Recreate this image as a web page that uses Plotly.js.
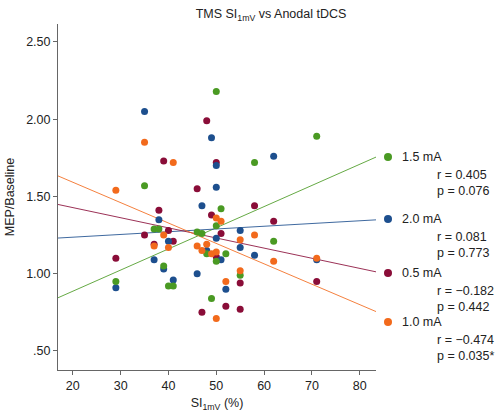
<!DOCTYPE html>
<html><head><meta charset="utf-8">
<script src="https://cdn.plot.ly/plotly-3.0.1.min.js"></script>
<style>html,body{margin:0;padding:0;background:#fff}#chart{width:502px;height:419px}</style>
</head><body><div id="chart"></div>
<script>
// Groups (legend order)
const groups = ["1.5 mA", "2.0 mA", "0.5 mA", "1.0 mA"];
const rLabels = ["r = 0.405", "r = 0.081", "r = \u22120.182", "r = \u22120.474"];
const pLabels = ["p = 0.076", "p = 0.773", "p = 0.442", "p = 0.035*"];
const colors = ["#4a9a23", "#1d4f8e", "#8a0d38", "#f26a1c"];

// 1.5 mA (green)
const x15 = [50, 35, 58, 51, 37, 38, 39, 29, 40, 41, 50, 46, 47, 62, 48, 52, 50, 55, 49, 71];
const y15 = [2.18, 1.57, 1.72, 1.42, 1.29, 1.29, 1.05, 0.95, 0.92, 0.92, 1.31, 1.27, 1.26, 1.21, 1.13, 1.13, 1.08, 0.99, 0.84, 1.89];
// 2.0 mA (blue)
const x20 = [35, 49, 50, 62, 50, 47, 38, 40, 37, 39, 29, 41, 55, 50, 55, 48, 51, 58, 46, 52, 71];
const y20 = [2.05, 1.88, 1.70, 1.76, 1.56, 1.44, 1.35, 1.21, 1.09, 1.03, 0.91, 0.96, 1.28, 1.23, 1.17, 1.15, 1.09, 1.12, 1.00, 0.90, 1.09];
// 0.5 mA (maroon)
const x05 = [39, 38, 48, 50, 46, 58, 40, 35, 41, 37, 29, 49, 62, 51, 50, 55, 52, 55, 47, 71];
const y05 = [1.73, 1.41, 1.99, 1.72, 1.55, 1.44, 1.28, 1.25, 1.21, 1.19, 1.10, 1.38, 1.34, 1.26, 1.11, 0.94, 0.79, 0.77, 0.75, 0.95];
// 1.0 mA (orange)
const x10 = [35, 41, 29, 39, 37, 40, 50, 51, 58, 55, 46, 48, 47, 49, 50, 62, 55, 52, 50, 71];
const y10 = [1.85, 1.72, 1.54, 1.25, 1.18, 1.17, 1.36, 1.34, 1.25, 1.22, 1.18, 1.19, 1.15, 1.13, 1.14, 1.08, 1.02, 0.95, 0.71, 1.10];

// regression lines (intercept, slope)
const intercepts = [0.613, 1.201, 1.559, 1.856];
const slopes = [0.01369, 0.00177, -0.006556, -0.0132];

const xTicks = [20, 30, 40, 50, 60, 70, 80];
const yTicks = [0.5, 1.0, 1.5, 2.0, 2.5];
const yTickText = [".50", "1.00", "1.50", "2.00", "2.50"];

const xRange = [16.9, 83.4];
const yRange = [0.377, 2.616];

const xs = [x15, x20, x05, x10];
const ys = [y15, y20, y05, y10];

const traces = [];
// lines first
for (let i = 0; i < 4; i++) {
  traces.push({
    x: [xRange[0], xRange[1]],
    y: [intercepts[i] + slopes[i] * xRange[0], intercepts[i] + slopes[i] * xRange[1]],
    mode: "lines", type: "scatter", showlegend: false, hoverinfo: "skip",
    line: {color: colors[i], width: 1}, opacity: 0.85, cliponaxis: true
  });
}
// draw order of points: maroon, blue, green, orange roughly
const order = [2, 1, 0, 3];
for (const i of order) {
  traces.push({
    x: xs[i], y: ys[i], mode: "markers", type: "scatter", name: groups[i], showlegend: false,
    marker: {color: colors[i], size: 7, line: {width: 0}}
  });
}

const F = "Liberation Sans, Arial, Helvetica, sans-serif";
const legendY = [157, 219, 273, 322];
const H = 419;
const annotations = [];
const shapes = [];
for (let i = 0; i < 4; i++) {
  const py = legendY[i];
  shapes.push({type: "circle", xref: "paper", yref: "paper", xsizemode: "pixel", ysizemode: "pixel",
    xanchor: 1 + (388 - 376) / 318, yanchor: 1 - (py - 24) / 346,
    x0: -4, x1: 4, y0: -4, y1: 4, fillcolor: colors[i], line: {width: 0}});
  annotations.push({xref: "paper", yref: "paper", x: 1 + (400 - 376) / 318, y: 1 - (py - 24) / 346,
    xanchor: "left", yanchor: "middle", showarrow: false, text: groups[i], font: {family: F, size: 12.5, color: "#222"}});
  annotations.push({xref: "paper", yref: "paper", x: 1 + (435 - 376) / 318, y: 1 - (py + 18 - 24) / 346,
    xanchor: "left", yanchor: "middle", showarrow: false, text: rLabels[i], font: {family: F, size: 12.5, color: "#222"}});
  annotations.push({xref: "paper", yref: "paper", x: 1 + (435 - 376) / 318, y: 1 - (py + 34 - 24) / 346,
    xanchor: "left", yanchor: "middle", showarrow: false, text: pLabels[i], font: {family: F, size: 12.5, color: "#222"}});
}

const layout = {
  width: 502, height: 419,
  margin: {l: 58, r: 126, t: 24, b: 49},
  paper_bgcolor: "#fff", plot_bgcolor: "#fff",
  font: {family: F, size: 12.5, color: "#222"},
  title: {text: "TMS SI<sub>1mV</sub> vs Anodal tDCS", x: 271 / 502, xanchor: "center", y: 1 - 14 / H, yanchor: "middle",
    font: {family: F, size: 12.5, color: "#222"}},
  xaxis: {range: xRange, tickvals: xTicks, ticktext: xTicks.map(String), showgrid: false, zeroline: false,
    showline: true, linecolor: "#666", linewidth: 1, ticks: "outside", ticklen: 4, tickcolor: "#666",
    title: {text: "SI<sub>1mV</sub> (%)", standoff: 6, font: {family: F, size: 12.5}}, tickfont: {family: F, size: 12.5}},
  yaxis: {range: yRange, tickvals: yTicks, ticktext: yTickText, showgrid: false, zeroline: false,
    showline: true, linecolor: "#666", linewidth: 1, ticks: "outside", ticklen: 4, tickcolor: "#666",
    title: {text: "MEP/Baseline", standoff: 8, font: {family: F, size: 12.5}}, tickfont: {family: F, size: 12.5}},
  annotations: annotations, shapes: shapes
};
Plotly.newPlot("chart", traces, layout, {displayModeBar: false, staticPlot: true});
</script></body></html>
